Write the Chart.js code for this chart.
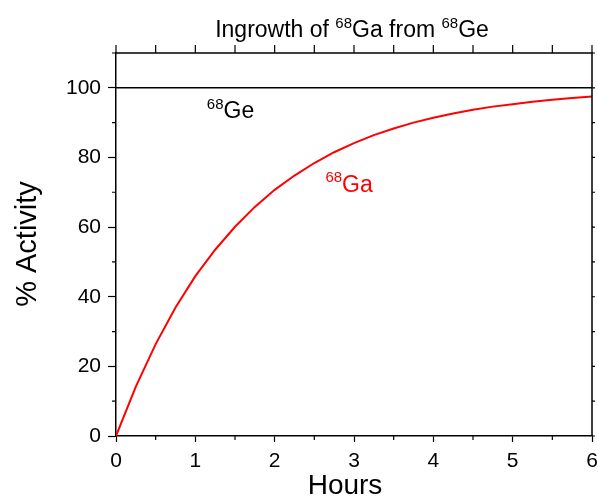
<!DOCTYPE html>
<html>
<head>
<meta charset="utf-8">
<script src="https://cdn.jsdelivr.net/npm/chart.js@4.4.0/dist/chart.umd.min.js"></script>
<style>
  html, body { margin: 0; padding: 0; background: #fff; }
  #wrap { width: 598px; height: 498px; }
</style>
</head>
<body>
<div id="wrap"><canvas id="chart" width="598" height="498"></canvas></div>
<script>
// values
const hours = [0, 0.25, 0.5, 0.75, 1, 1.25, 1.5, 1.75, 2, 2.25, 2.5, 2.75, 3,
  3.25, 3.5, 3.75, 4, 4.25, 4.5, 4.75, 5, 5.25, 5.5, 5.75, 6];
const gaActivity = [0, 14.2, 26.4, 36.9, 45.9, 53.5, 60.1, 65.8, 70.7, 74.8, 78.4,
  81.5, 84.1, 86.4, 88.3, 90.0, 91.4, 92.6, 93.7, 94.6, 95.3, 96.0, 96.6, 97.1, 97.5];
const geHours = [0, 6];
const geActivity = [100, 100];
const xTicks = [0, 1, 2, 3, 4, 5, 6];
const yTicks = [0, 20, 40, 60, 80, 100];

const FONT = "'Liberation Sans', Arial, sans-serif";

function toPoints(xs, ys) {
  return xs.map((x, i) => ({ x: x, y: ys[i] }));
}

// draws text with a leading superscript mass number, e.g. 68Ga
function supText(ctx, x, y, parts, size) {
  let cx = x;
  parts.forEach(p => {
    if (p.sup) {
      ctx.font = Math.round(size * 0.65) + "px " + FONT;
      ctx.fillText(p.t, cx, y - size * 0.4);
    } else {
      ctx.font = size + "px " + FONT;
      ctx.fillText(p.t, cx, y);
    }
    cx += ctx.measureText(p.t).width;
  });
  return cx - x;
}

function measureSup(ctx, parts, size) {
  let w = 0;
  parts.forEach(p => {
    ctx.font = (p.sup ? Math.round(size * 0.65) : size) + "px " + FONT;
    w += ctx.measureText(p.t).width;
  });
  return w;
}

const framePlugin = {
  id: "frame",
  afterDraw(chart) {
    const ctx = chart.ctx;
    const a = chart.chartArea;
    const xs = chart.scales.x;
    const ys = chart.scales.y;
    ctx.save();
    ctx.strokeStyle = "#000";
    ctx.lineWidth = 1.5;
    // top and right border
    ctx.beginPath();
    ctx.moveTo(a.left, a.top);
    ctx.lineTo(a.right, a.top);
    ctx.lineTo(a.right, a.bottom);
    ctx.stroke();

    ctx.lineWidth = 1.2;
    ctx.beginPath();
    // bottom minor + top ticks
    for (let v = 0; v <= 6.001; v += 0.5) {
      const px = xs.getPixelForValue(v);
      if (v % 1 !== 0) {
        ctx.moveTo(px, a.bottom);
        ctx.lineTo(px, a.bottom + 4);
      }
      ctx.moveTo(px, a.top);
      ctx.lineTo(px, a.top - 8);
    }
    // left minor + right ticks
    for (let v = 0; v <= 110; v += 10) {
      const py = ys.getPixelForValue(v);
      if (v % 20 !== 0) {
        ctx.moveTo(a.left, py);
        ctx.lineTo(a.left - 4, py);
      }
      ctx.moveTo(a.right, py);
      ctx.lineTo(a.right + 3, py);
    }
    ctx.stroke();

    ctx.fillStyle = "#000";
    ctx.textBaseline = "alphabetic";
    ctx.textAlign = "left";
    // title
    const title = [{ t: "Ingrowth of " }, { t: "68", sup: true }, { t: "Ga from " }, { t: "68", sup: true }, { t: "Ge" }];
    const tw = measureSup(ctx, title, 23);
    supText(ctx, 352 - tw / 2, 37, title, 23);

    // series labels
    supText(ctx, xs.getPixelForValue(1.145), ys.getPixelForValue(91.3), [{ t: "68", sup: true }, { t: "Ge" }], 23);
    ctx.fillStyle = "#ff0000";
    supText(ctx, xs.getPixelForValue(2.64), ys.getPixelForValue(70.2), [{ t: "68", sup: true }, { t: "Ga" }], 23);

    // axis titles
    ctx.fillStyle = "#000";
    ctx.textAlign = "center";
    ctx.font = "28px " + FONT;
    ctx.fillText("Hours", 345, 494);
    ctx.save();
    ctx.translate(36, 244);
    ctx.rotate(-Math.PI / 2);
    ctx.font = "29px " + FONT;
    ctx.fillText("% Activity", 0, 0);
    ctx.restore();
    ctx.restore();
  }
};

new Chart(document.getElementById("chart").getContext("2d"), {
  type: "line",
  data: {
    datasets: [
      {
        label: "68Ge",
        data: toPoints(geHours, geActivity),
        borderColor: "#000000",
        borderWidth: 1.5,
        pointRadius: 0,
        tension: 0
      },
      {
        label: "68Ga",
        data: toPoints(hours, gaActivity),
        borderColor: "#ff0000",
        borderWidth: 2,
        pointRadius: 0,
        tension: 0
      }
    ]
  },
  options: {
    responsive: false,
    animation: false,
    layout: { padding: { top: 53, right: 6, left: 0, bottom: 0 } },
    plugins: {
      legend: { display: false },
      tooltip: { enabled: false }
    },
    scales: {
      x: {
        type: "linear",
        min: 0,
        max: 6,
        afterFit: s => { s.height = 62; s.paddingLeft = 0; s.paddingRight = 0; },
        afterBuildTicks: s => { s.ticks = xTicks.map(v => ({ value: v })); },
        ticks: {
          color: "#000",
          font: { family: FONT, size: 21 },
          padding: 7,
          maxRotation: 0
        },
        grid: {
          drawOnChartArea: false,
          tickLength: 6,
          tickColor: "#000",
          tickWidth: 1.2
        },
        border: { color: "#000", width: 1.5 }
      },
      y: {
        min: 0,
        max: 110,
        afterFit: s => { s.width = 116; s.paddingTop = 0; s.paddingBottom = 0; },
        afterBuildTicks: s => { s.ticks = yTicks.map(v => ({ value: v })); },
        ticks: {
          color: "#000",
          font: { family: FONT, size: 21 },
          padding: 7
        },
        grid: {
          drawOnChartArea: false,
          tickLength: 8,
          tickColor: "#000",
          tickWidth: 1.2
        },
        border: { color: "#000", width: 1.5 }
      }
    }
  },
  plugins: [framePlugin]
});
</script>
</body>
</html>
